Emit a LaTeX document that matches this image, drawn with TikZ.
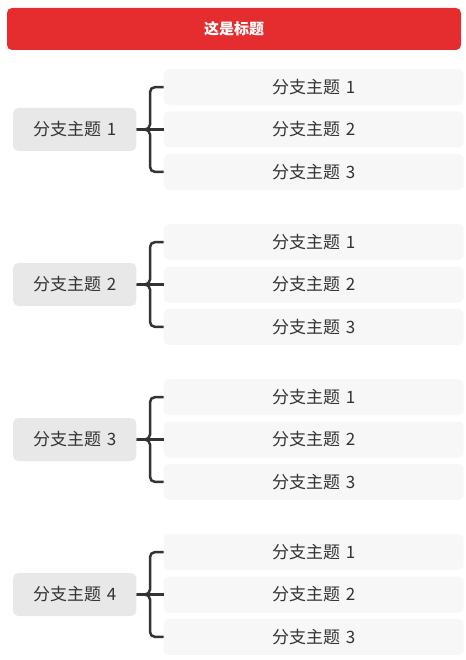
\documentclass[tikz,border=0pt]{standalone}
\usepackage{fontspec}
\setmainfont{Noto Sans CJK SC}
\usepackage{tikz}
\usetikzlibrary{positioning}

\definecolor{titlered}{HTML}{E52D30}
\definecolor{topicgray}{HTML}{E8E8E8}
\definecolor{subgray}{HTML}{F8F7F8}
\definecolor{ink}{HTML}{333333}

\begin{document}
\begin{tikzpicture}[ x=1pt , y=1pt , node distance =6pt ,
  title/.style ={ fill=titlered , rounded corners=5pt , minimum width=454pt , minimum height=42pt , text=white , font=\fontsize{15}{18}\selectfont\bfseries },
  topic/.style ={ fill=topicgray , rounded corners=5pt , minimum height=43pt , inner xsep=20pt , text=ink , font=\fontsize{17}{20}\selectfont },
  subtopic/.style ={ fill=subgray , rounded corners=5pt , minimum width=300pt , minimum height=36pt , text=ink , font=\fontsize{17}{20}\selectfont },
  brace/.style ={ draw=ink , line width=2.5pt , rounded corners=5pt } ]
\useasboundingbox (0,0) rectangle (465,-660);
\node [ title ] (head) at (234,-29) {这是标题};
% branch 1
\node [ topic , anchor=west ] (t1) at (13,-129.5) {分支主题\,\,1};
\node [ subtopic ] (t1b) [ right = 27pt of t1 ] {分支主题\,\,2};
\node [ subtopic ] (t1a) [ above = of t1b ] {分支主题\,\,1};
\node [ subtopic ] (t1c) [ below = of t1b ] {分支主题\,\,3};
% branch 2
\node [ topic , anchor=west ] (t2) at (13,-284.5) {分支主题\,\,2};
\node [ subtopic ] (t2b) [ right = 27pt of t2 ] {分支主题\,\,2};
\node [ subtopic ] (t2a) [ above = of t2b ] {分支主题\,\,1};
\node [ subtopic ] (t2c) [ below = of t2b ] {分支主题\,\,3};
% branch 3
\node [ topic , anchor=west ] (t3) at (13,-439.5) {分支主题\,\,3};
\node [ subtopic ] (t3b) [ right = 27pt of t3 ] {分支主题\,\,2};
\node [ subtopic ] (t3a) [ above = of t3b ] {分支主题\,\,1};
\node [ subtopic ] (t3c) [ below = of t3b ] {分支主题\,\,3};
% branch 4
\node [ topic , anchor=west ] (t4) at (13,-594.5) {分支主题\,\,4};
\node [ subtopic ] (t4b) [ right = 27pt of t4 ] {分支主题\,\,2};
\node [ subtopic ] (t4a) [ above = of t4b ] {分支主题\,\,1};
\node [ subtopic ] (t4c) [ below = of t4b ] {分支主题\,\,3};
% braces
\draw [ brace ] (t1.east) -- ++(13.5,0) |- (t1a.west);
\draw [ brace ] (t1.east) -- ++(13.5,0) |- (t1c.west);
\draw [ brace ] (t1.east) -- (t1b.west);
\draw [ brace ] (t2.east) -- ++(13.5,0) |- (t2a.west);
\draw [ brace ] (t2.east) -- ++(13.5,0) |- (t2c.west);
\draw [ brace ] (t2.east) -- (t2b.west);
\draw [ brace ] (t3.east) -- ++(13.5,0) |- (t3a.west);
\draw [ brace ] (t3.east) -- ++(13.5,0) |- (t3c.west);
\draw [ brace ] (t3.east) -- (t3b.west);
\draw [ brace ] (t4.east) -- ++(13.5,0) |- (t4a.west);
\draw [ brace ] (t4.east) -- ++(13.5,0) |- (t4c.west);
\draw [ brace ] (t4.east) -- (t4b.west);
\end{tikzpicture}
\end{document}
